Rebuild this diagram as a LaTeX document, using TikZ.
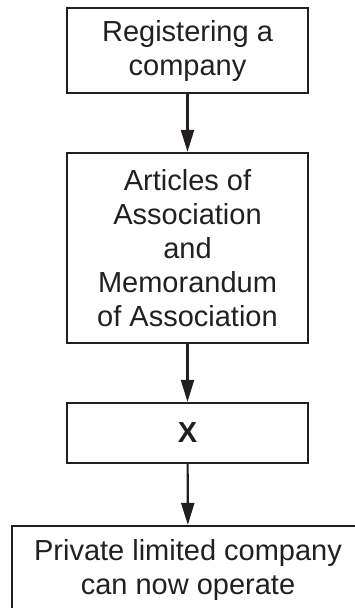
\documentclass[tikz,border=0pt]{standalone}
\usepackage{fontspec}
\setmainfont{Liberation Sans}
\usetikzlibrary{arrows.meta}
\definecolor{ink}{HTML}{231F20}
\begin{document}
\begin{tikzpicture}[x=1pt,y=-1pt,
  box/.style={draw=ink,line width=2.2pt,text=ink,align=center,inner sep=0pt,
    font=\fontsize{29}{34}\selectfont,minimum width=241pt},
  arr/.style={draw=ink,line width=2.2pt,-{Triangle[length=22pt,width=13pt]}}]
\useasboundingbox (0,0) rectangle (355,608);
\clip (0,0) rectangle (355,608);
\node[box,minimum height=85pt] (b1) at (187.5,50.5) {Registering a\\company};
\node[box,minimum height=190pt] (b2) at (187.5,248) {Articles of\\Association\\and\\Memorandum\\of Association};
\node[box,minimum height=60pt,font=\fontsize{29}{34}\selectfont\bfseries] (b3) at (187.5,433) {X};
\node[box,minimum height=88pt,minimum width=352pt] (b4) at (188,570) {Private limited company\\can now operate};
\draw[arr] (b1) -- (b2);
\draw[arr] (b2) -- (b3);
\draw[arr] (b3) -- (b4);
\end{tikzpicture}
\end{document}
